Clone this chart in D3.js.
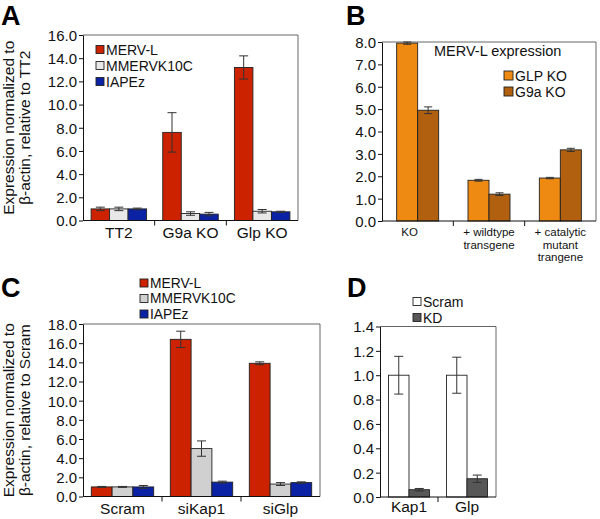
<!DOCTYPE html>
<html><head><meta charset="utf-8">
<script src="https://cdn.jsdelivr.net/npm/d3@7"></script>
<style>body{margin:0;background:#fff}svg{display:block;font-family:"Liberation Sans",Arial,Helvetica,sans-serif}</style>
</head><body><svg id="c" width="600" height="519"></svg>
<script>
// ---------- Panel A ----------
const catsA = ["TT2", "G9a KO", "Glp KO"];
const seriesA = ["MERV-L", "MMERVK10C", "IAPEz"];
const mervlA = [1.0, 7.6, 13.2];
const mervlErrA = [0.15, 1.7, 1.0];
const mmervkA = [1.0, 0.6, 0.8];
const mmervkErrA = [0.15, 0.15, 0.15];
const iapezA = [1.0, 0.55, 0.75];
const iapezErrA = [0.07, 0.15, 0.05];
const ticksA = [0, 2, 4, 6, 8, 10, 12, 14, 16];
const yTitleA = ["Expression normalized to", "β-actin, relative to TT2"];

// ---------- Panel B ----------
const catsB = ["KO", "+ wildtype|transgene", "+ catalytic|mutant|trangene"];
const seriesB = ["GLP KO", "G9a KO"];
const glpB = [7.95, 1.82, 1.92];
const glpErrB = [0.05, 0.04, 0.03];
const g9aB = [4.95, 1.2, 3.18];
const g9aErrB = [0.15, 0.06, 0.07];
const ticksB = [0, 1, 2, 3, 4, 5, 6, 7, 8];
const titleB = "MERV-L expression";

// ---------- Panel C ----------
const catsC = ["Scram", "siKap1", "siGlp"];
const seriesC = ["MERV-L", "MMERVK10C", "IAPEz"];
const mervlC = [1.0, 16.4, 13.9];
const mervlErrC = [0.05, 0.85, 0.15];
const mmervkC = [1.0, 5.0, 1.3];
const mmervkErrC = [0.05, 0.8, 0.15];
const iapezC = [1.0, 1.5, 1.45];
const iapezErrC = [0.15, 0.1, 0.08];
const ticksC = [0, 2, 4, 6, 8, 10, 12, 14, 16, 18];
const yTitleC = ["Expression normalized to", "β-actin, relative to Scram"];

// ---------- Panel D ----------
const catsD = ["Kap1", "Glp"];
const seriesD = ["Scram", "KD"];
const scramD = [1.0, 1.0];
const scramErrD = [0.155, 0.148];
const kdD = [0.06, 0.15];
const kdErrD = [0.01, 0.03];
const ticksD = [0, 0.2, 0.4, 0.6, 0.8, 1.0, 1.2, 1.4];

const panelLabels = ["A", "B", "C", "D"];

// ---------- colours ----------
const RED = "#cc2200", BLUE = "#0c22a4", LGREY_A = "#e8e8e8", LGREY_C = "#d0d0d0";
const ORANGE = "#ee8a12", BROWN = "#b0600e", DARK = "#575757", WHITE = "#ffffff";

const svg = d3.select("#c");
const fmt = d3.format(".1f");

function panel(o) {
  const g = svg.append("g");
  const x = d3.scaleBand().domain(o.cats).range([o.x0, o.x1]);
  const y = d3.scaleLinear().domain([0, o.yMax]).range([o.y1, o.y0]);
  const n = o.series.length;
  // frame (top/right)
  g.append("path").attr("d", `M${o.x0},${o.y0}H${o.x1}V${o.y1}`)
    .attr("fill", "none").attr("stroke", "#666").attr("stroke-width", 1);
  // bars
  o.series.forEach((s, si) => {
    const off = (si - (n - 1) / 2) * o.bw;
    const sg = g.append("g");
    sg.selectAll("rect").data(s.vals).join("rect")
      .attr("x", (d, i) => x(o.cats[i]) + x.bandwidth() / 2 + off - o.bw / 2)
      .attr("y", d => y(d))
      .attr("width", o.bw)
      .attr("height", d => y(0) - y(d))
      .attr("fill", s.color).attr("stroke", "#222").attr("stroke-width", 0.9);
    // error bars
    s.vals.forEach((v, i) => {
      const cx = x(o.cats[i]) + x.bandwidth() / 2 + off;
      const e = s.errs[i];
      const t = y(v + e), b = y(v - e);
      const cw = o.cap;
      sg.append("path")
        .attr("d", `M${cx},${t}V${b}M${cx - cw},${t}H${cx + cw}M${cx - cw},${b}H${cx + cw}`)
        .attr("stroke", "#333").attr("stroke-width", 1).attr("fill", "none");
    });
  });
  // y axis
  const ya = g.append("g").attr("transform", `translate(${o.x0},0)`)
    .call(d3.axisLeft(y).tickValues(o.ticks).tickFormat(fmt).tickSize(4).tickSizeOuter(0));
  ya.select(".domain").attr("stroke", "#111");
  ya.selectAll("line").attr("stroke", "#111");
  ya.selectAll("text").attr("font-size", o.tickFs).attr("fill", "#111")
    .attr("font-family", "Liberation Sans, Arial, sans-serif").attr("x", -6).attr("dy", "0.36em");
  // x axis baseline + category ticks
  g.append("line").attr("x1", o.x0).attr("x2", o.x1).attr("y1", y(0)).attr("y2", y(0))
    .attr("stroke", "#111");
  g.selectAll(".ct").data(o.cats.slice(1)).join("line")
    .attr("x1", d => x(d)).attr("x2", d => x(d))
    .attr("y1", y(0)).attr("y2", y(0) + 5).attr("stroke", "#111");
  // category labels
  o.cats.forEach((c, i) => {
    const lines = c.split("|");
    const t = g.append("text").attr("text-anchor", "middle")
      .attr("font-size", o.catFs).attr("fill", "#111");
    lines.forEach((l, li) => {
      t.append("tspan").attr("x", x(c) + x.bandwidth() / 2 + (o.catDx ? o.catDx[i] : 0))
        .attr("y", y(0) + o.catDy + li * o.catLh).text(l);
    });
  });
  // y title
  if (o.yTitle) {
    const cy = (o.y0 + o.y1) / 2;
    o.yTitle.forEach((l, li) => {
      g.append("text").attr("transform", `translate(${o.yTitleX[li]},${cy}) rotate(-90)`)
        .attr("text-anchor", "middle").attr("font-size", o.yTitleFs).attr("fill", "#111").text(l);
    });
  }
  // legend
  o.series.forEach((s, si) => {
    const ly = o.legY + si * o.legLh;
    g.append("rect").attr("x", o.legX).attr("y", ly - o.sw / 2).attr("width", o.sw).attr("height", o.sw)
      .attr("fill", s.color).attr("stroke", "#222").attr("stroke-width", 0.9);
    g.append("text").attr("x", o.legX + o.sw + 2).attr("y", ly).attr("dy", "0.36em")
      .attr("font-size", o.legFs).attr("fill", "#111").text(s.name);
  });
  if (o.title) {
    g.append("text").attr("x", o.titleX).attr("y", o.titleY).attr("dy", "0.36em")
      .attr("font-size", o.titleFs).attr("fill", "#111").text(o.title);
  }
  g.append("text").attr("x", o.labX).attr("y", o.labY).attr("font-size", 27)
    .attr("font-weight", "bold").attr("fill", "#000").text(o.label);
}

panel({
  label: panelLabels[0], labX: 1, labY: 24.5,
  x0: 83, x1: 298, y0: 35, y1: 220.5, yMax: 16, ticks: ticksA, tickFs: 15,
  cats: catsA, bw: 18.5, cap: 4.5, catFs: 15.5, catDy: 17, catLh: 0,
  series: [
    { name: seriesA[0], vals: mervlA, errs: mervlErrA, color: RED },
    { name: seriesA[1], vals: mmervkA, errs: mmervkErrA, color: LGREY_A },
    { name: seriesA[2], vals: iapezA, errs: iapezErrA, color: BLUE }
  ],
  yTitle: yTitleA, yTitleX: [14, 30], yTitleFs: 15.5,
  legX: 96, legY: 49.5, legLh: 16, sw: 8, legFs: 14
});

panel({
  label: panelLabels[1], labX: 346, labY: 24.5,
  x0: 382, x1: 596, y0: 42, y1: 221, yMax: 8, ticks: ticksB, tickFs: 15,
  cats: catsB, bw: 21, cap: 4, catFs: 11.5, catDy: 15, catLh: 12.5, catDx: [-8, 0, 0],
  series: [
    { name: seriesB[0], vals: glpB, errs: glpErrB, color: ORANGE },
    { name: seriesB[1], vals: g9aB, errs: g9aErrB, color: BROWN }
  ],
  title: titleB, titleX: 434, titleY: 51, titleFs: 14.5,
  legX: 504, legY: 75.5, legLh: 16, sw: 9, legFs: 14
});

panel({
  label: panelLabels[2], labX: 1, labY: 297,
  x0: 83, x1: 320, y0: 324, y1: 496.5, yMax: 18, ticks: ticksC, tickFs: 15,
  cats: catsC, bw: 20.8, cap: 4.5, catFs: 15.5, catDy: 17, catLh: 0,
  series: [
    { name: seriesC[0], vals: mervlC, errs: mervlErrC, color: RED },
    { name: seriesC[1], vals: mmervkC, errs: mmervkErrC, color: LGREY_C },
    { name: seriesC[2], vals: iapezC, errs: iapezErrC, color: BLUE }
  ],
  yTitle: yTitleC, yTitleX: [14, 30], yTitleFs: 15.5,
  legX: 140, legY: 283, legLh: 15.5, sw: 8, legFs: 13.8
});

panel({
  label: panelLabels[3], labX: 347, labY: 297,
  x0: 380, x1: 496, y0: 326.5, y1: 497, yMax: 1.4, ticks: ticksD, tickFs: 15,
  cats: catsD, bw: 20.5, cap: 4.5, catFs: 15.5, catDy: 15, catLh: 0,
  series: [
    { name: seriesD[0], vals: scramD, errs: scramErrD, color: WHITE },
    { name: seriesD[1], vals: kdD, errs: kdErrD, color: DARK }
  ],
  legX: 413, legY: 301.5, legLh: 16, sw: 8, legFs: 14
});
</script></body></html>
